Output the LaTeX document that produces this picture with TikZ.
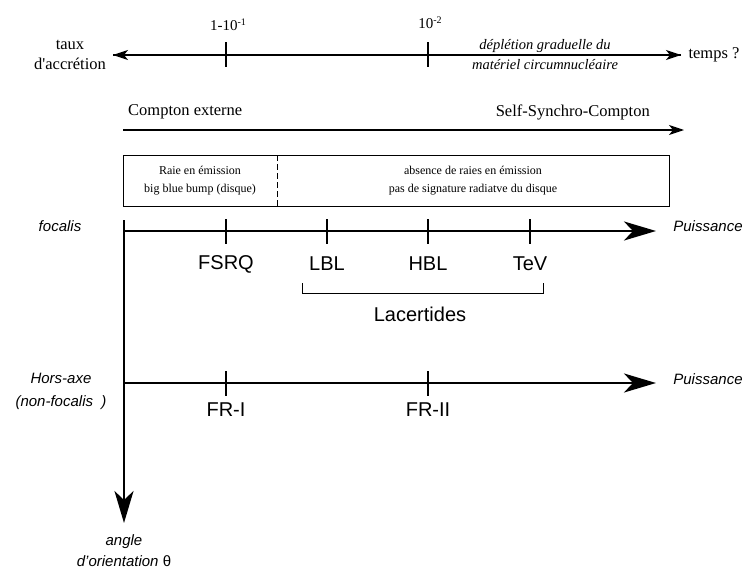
\documentclass[tikz,border=0pt]{standalone}
\usepackage{fontspec}
\setmainfont{Liberation Serif}[Ligatures=TeXOff]
\newfontfamily\arial{Liberation Sans}
\usetikzlibrary{arrows.meta}
\newcommand{\supexp}[1]{\raisebox{5.5pt}{\fontsize{10}{10}\selectfont #1}}
\begin{document}
\begin{tikzpicture}[x=1pt,y=-1pt,
  serif/.style={font=\fontsize{16.5}{19}\selectfont, inner sep=0pt},
  serifit/.style={font=\fontsize{14.5}{20}\selectfont\itshape, inner sep=0pt, align=center},
  boxtxt/.style={font=\fontsize{12}{18}\selectfont, inner sep=0pt, align=center},
  sanslab/.style={font=\arial\fontsize{20}{22}\selectfont, inner sep=0pt},
  sansit/.style={font=\arial\itshape\fontsize{15}{23}\selectfont, inner sep=0pt, align=center},
  thinarrow/.style={line width=1.3pt, -{Stealth[length=15pt,width=10pt,inset=4pt]}},
  thickaxis/.style={line width=2.6pt, -{Stealth[length=32pt,width=19pt,inset=9pt]}},
  thintick/.style={line width=1.2pt},
  thicktick/.style={line width=2.6pt}]
\useasboundingbox (0,0) rectangle (750,570);
% top time axis
\coordinate (tl) at (113,55);
\coordinate (tr) at (681,55);
\draw[thinarrow] (tr) -- (tl);
\draw[thinarrow] (tl) -- (tr);
\draw[thintick] (226,42) -- (226,67);
\draw[thintick] (428,42) -- (428,67);
\node[serif, font=\fontsize{15}{17}\selectfont] (t1) at (228,25) {1-10\supexp{-1}};
\node[serif, font=\fontsize{15}{17}\selectfont] (t2) at (430,23) {10\supexp{-2}};
\node[serif, align=center, font=\fontsize{16.5}{20}\selectfont] (taux) at (70,55) {taux\\d'accrétion};
\node[serif] (temps) at (714,55) {temps ?};
\node[serifit] (depl) at (545,55) {déplétion graduelle du\\matériel circumnucléaire};
% Compton arrow
\coordinate (cl) at (123,130);
\coordinate (cr) at (684,130);
\draw[thinarrow] (cl) -- (cr);
\node[serif, anchor=west] (ce) at (128,112) {Compton externe};
\node[serif, anchor=east] (ssc) at (650,112) {Self-Synchro-Compton};
% box
\draw[line width=0.9pt] (123,155) rectangle (669,206);
\draw[line width=0.9pt, dash pattern=on 6pt off 3pt] (277,155) -- (277,206);
\node[boxtxt] (b1) at (200,181) {Raie en émission\\big blue bump (disque)};
\node[boxtxt] (b2) at (473,181) {absence de raies en émission\\pas de signature radiatve du disque};
% focalis axis
\coordinate (o) at (124,231);
\coordinate (top) at (124,220);
\coordinate (down) at (124,523);
\coordinate (fr) at (656,231);
\draw[line width=2.6pt] (top) -- (o);
\draw[thickaxis] (o) -- (fr);
\draw[thickaxis] (o) -- (down);
\foreach \x/\n in {226/FSRQ,327/LBL,428/HBL,530/TeV}{
  \draw[thicktick] (\x,219) -- (\x,244);
  \node[sanslab] (\n) at (\x,264) {\n};
}
\draw[line width=0.9pt] (302,283) -- (302,293) -- (543,293) -- (543,283);
\node[sanslab] (lac) at (420,314) {Lacertides};
\node[sansit] (foc) at (60,226) {focalis};
\node[sansit] (p1) at (708,226) {Puissance};
% hors-axe axis
\coordinate (h) at (124,383);
\coordinate (hr) at (656,383);
\draw[thickaxis] (h) -- (hr);
\draw[thicktick] (226,371) -- (226,396);
\draw[thicktick] (428,371) -- (428,396);
\node[sanslab] (fr1) at (226,410) {FR-I};
\node[sanslab] (fr2) at (428,410) {FR-II};
\node[sansit] (p2) at (708,379) {Puissance};
\node[sansit] (hors) at (61,391) {Hors-axe\\(non-focalis\ \ )};
\node[sansit, font=\arial\itshape\fontsize{15}{21}\selectfont] (ang) at (124,551) {angle\\d’orientation \textup{θ}};
\end{tikzpicture}
\end{document}
